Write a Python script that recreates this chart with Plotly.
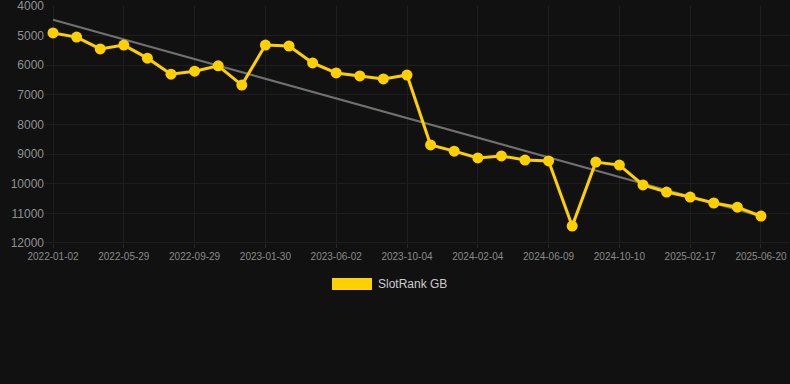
import numpy as np
import plotly.graph_objects as go

dates = [
    "2022-01-02", "2022-02-20", "2022-04-10", "2022-05-29", "2022-07-10", "2022-08-20",
    "2022-09-29", "2022-11-09", "2022-12-20", "2023-01-30", "2023-03-12", "2023-04-22",
    "2023-06-02", "2023-07-13", "2023-08-23", "2023-10-04", "2023-11-14", "2023-12-25",
    "2024-02-04", "2024-03-16", "2024-04-28", "2024-06-09", "2024-07-20", "2024-08-30",
    "2024-10-10", "2024-11-22", "2025-01-03", "2025-02-17", "2025-03-30", "2025-05-10",
    "2025-06-20",
]
ranks = [
    4910, 5050, 5450, 5320, 5760, 6300, 6200, 6020, 6670, 5320, 5350,
    5920, 6260, 6360, 6460, 6330, 8690, 8900, 9130, 9060, 9200, 9230,
    11430, 9270, 9370, 10040, 10280, 10450, 10650, 10790, 11090,
]
tick_labels = dates[::3]
y_ticks = [4000, 5000, 6000, 7000, 8000, 9000, 10000, 11000, 12000]
series_name = "SlotRank GB"

idx = np.arange(len(ranks))
slope, intercept = np.polyfit(idx, ranks, 1)
trend = slope * idx + intercept

FONT = "Liberation Sans, Arial, sans-serif"

fig = go.Figure()
fig.add_trace(go.Scatter(
    x=dates, y=trend, mode="lines",
    line=dict(color="#707070", width=2), showlegend=False, hoverinfo="skip",
))
fig.add_trace(go.Scatter(
    x=dates, y=ranks, mode="lines+markers", name=series_name,
    line=dict(color="#FFD000", width=3),
    marker=dict(color="#FFD000", size=11),
    showlegend=False,
))

n = len(dates)
fig.update_xaxes(
    type="category", categoryorder="array", categoryarray=dates,
    range=[-0.34, n - 1 + 1.23],
    tickvals=tick_labels, ticktext=tick_labels,
    showgrid=True, gridcolor="#1e1e1e", gridwidth=1,
    zeroline=False, showline=False,
    ticks="outside", ticklen=4, tickcolor="#2a2a2a",
    ticklabeloverflow="allow",
    tickfont=dict(size=10, color="#8a8a8a", family=FONT),
)
fig.update_yaxes(
    range=[12000, 4000], tickvals=y_ticks, tickformat="d",
    showgrid=True, gridcolor="#1e1e1e", gridwidth=1,
    zeroline=False, showline=False,
    ticklabeloverflow="allow",
    tickfont=dict(size=12, color="#909090", family=FONT),
)
fig.add_shape(type="line", xref="paper", yref="y", x0=0, x1=1, y0=12000, y1=12000,
              line=dict(color="#2a2a2a", width=1), layer="below")

# legend drawn manually
fig.add_shape(type="rect", xref="paper", yref="paper",
              x0=(332 - 45) / 745, x1=(372 - 45) / 745,
              y0=-(278 - 243) / 237, y1=-(290 - 243) / 237,
              fillcolor="#FFD000", line=dict(width=0))
fig.add_annotation(xref="paper", yref="paper", x=(376 - 45) / 745, y=-(284 - 243) / 237,
                   text=series_name, showarrow=False, xanchor="left", yanchor="middle",
                   font=dict(size=12, color="#cccccc", family=FONT))

fig.update_layout(
    width=790, height=384,
    margin=dict(l=45, r=0, t=6, b=141),
    paper_bgcolor="#111111", plot_bgcolor="#111111",
    showlegend=False,
    font=dict(family=FONT),
)
fig.write_html(
    "out.html",
    config={"displayModeBar": False},
    post_script="document.body.style.margin='0';document.body.style.background='#111111';",
)
